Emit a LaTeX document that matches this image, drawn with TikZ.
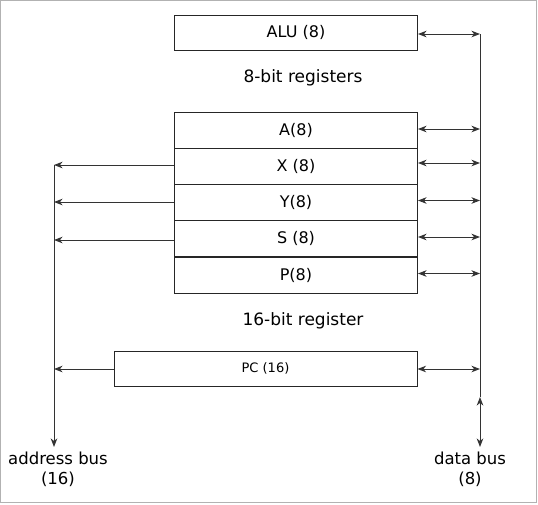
\documentclass[tikz,border=0pt]{standalone}
\usepackage{fontspec}
\setmainfont{DejaVu Sans}
\usetikzlibrary{arrows.meta}
\tikzset{
  reg/.style={draw=black!85, line width=1pt, minimum width=243pt, minimum height=36pt, inner sep=0pt, font=\fontsize{16}{19}\selectfont},
  lbl/.style={font=\fontsize{16.5}{20}\selectfont, inner sep=0pt, align=center},
  seclbl/.style={font=\fontsize{17}{20}\selectfont, inner sep=0pt},
  conn/.style={draw=black!80, line width=1pt},
  tip/.style={-{Stealth[length=8.5pt,width=6.5pt,inset=2.5pt]}},
  tips/.style={{Stealth[length=8.5pt,width=6.5pt,inset=2.5pt]}-{Stealth[length=8.5pt,width=6.5pt,inset=2.5pt]}}
}
\begin{document}
\begin{tikzpicture}[x=1pt,y=-1pt]
\useasboundingbox (0,0) rectangle (538,504);
\draw[black!30, line width=1.2pt] (0.6,0.6) rectangle (536.6,502.6);

% boxes
\node[reg, minimum height=35pt] (alu) at (296,32.5) {ALU (8)};
\node[reg] (a) at (296,130.3) {A(8)};
\node[reg] (x) at (296,166.5) {X (8)};
\node[reg] (y) at (296,202.7) {Y(8)};
\node[reg] (s) at (296,238.9) {S (8)};
\node[reg] (p) at (296,275.1) {P(8)};
\node[reg, minimum width=303pt, minimum height=35pt, font=\fontsize{13}{16}\selectfont] (pc) at (265.5,368.5) {PC (16)};

% section labels
\node[seclbl] (l8) at (303,78) {8-bit registers};
\node[seclbl] (l16) at (303,321) {16-bit register};

% bus lines
\coordinate (dtop) at (480,34);
\coordinate (dup) at (480,397);
\coordinate (dbot) at (480,447);
\coordinate (atop) at (54,165);
\coordinate (abot) at (54,447);
\draw[conn] (dtop) -- (dup);
\draw[conn, tips] (dup) -- (dbot);
\draw[conn, tip] (atop) -- (abot);

\node[lbl, anchor=north] (ab) at (58,452) {address bus\\(16)};
\node[lbl, anchor=north] (db) at (470,452) {data bus\\(8)};

% data bus connectors
\draw[conn, tips] (alu.east |- 0,34) -- (dtop);
\foreach \n/\yy in {a/129, x/163, y/200.5, s/237, p/273.5, pc/369}{
  \coordinate (d\n) at (480,\yy);
  \draw[conn, tips] (\n.east |- d\n) -- (d\n);
}
% address bus connectors
\foreach \n/\yy in {x/165, y/202, s/240, pc/369}{
  \coordinate (ad\n) at (54,\yy);
  \draw[conn, tip] (\n.west |- ad\n) -- (ad\n);
}
\end{tikzpicture}
\end{document}
